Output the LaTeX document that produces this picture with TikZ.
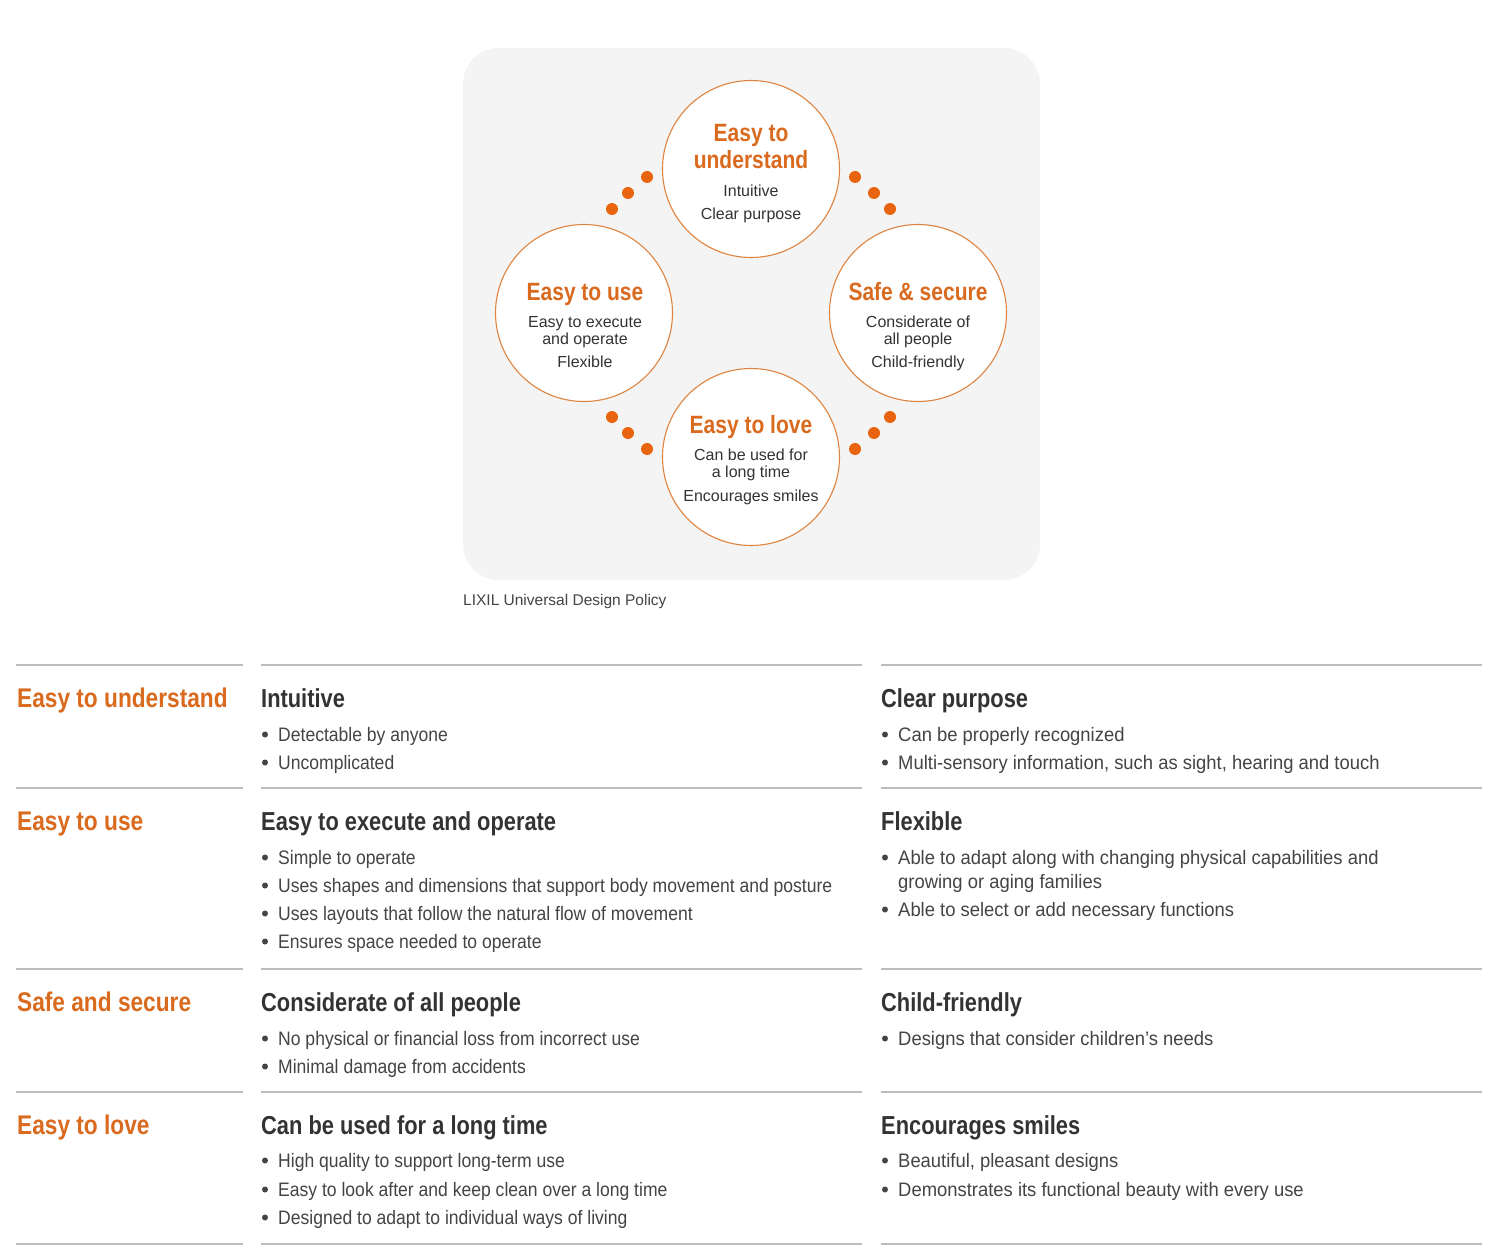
\documentclass[tikz,border=0pt]{standalone}
\usepackage{fontspec}
\setmainfont{Liberation Sans}
\newfontfamily\hdfont{Liberation Sans}[FakeStretch=0.84]
\newfontfamily\txfont{Liberation Sans}[FakeStretch=0.9]
\newfontfamily\txwfont{Liberation Sans}[FakeStretch=0.945]
\newfontfamily\cifont{Liberation Sans}
\definecolor{ttl}{HTML}{D96A1E}
\definecolor{dotc}{HTML}{E8640F}
\definecolor{ring}{HTML}{DE8440}
\definecolor{boxg}{HTML}{F4F4F4}
\definecolor{rule}{HTML}{BDBDBD}
\definecolor{dark}{HTML}{333333}
\definecolor{body}{HTML}{444444}
\tikzset{
  circ/.style={circle, draw=ring, line width=1.1pt, fill=white, minimum size=177pt, inner sep=0pt},
  odot/.style={fill=dotc, draw=none},
  ctitle/.style={anchor=base, text=ttl, font=\hdfont\bfseries\fontsize{25}{27}\selectfont, inner sep=0pt},
  csub/.style={anchor=base, text=dark, font=\cifont\fontsize{16}{17}\selectfont, inner sep=0pt},
  rowlab/.style={anchor=base west, text=ttl, font=\hdfont\bfseries\fontsize{27}{30}\selectfont, inner sep=0pt},
  colhead/.style={anchor=base west, text=dark, font=\hdfont\bfseries\fontsize{26}{29}\selectfont, inner sep=0pt},
  item/.style={anchor=base west, text=body, font=\txfont\fontsize{19.5}{24}\selectfont, inner sep=0pt},
  itemw/.style={anchor=base west, text=body, font=\txwfont\fontsize{19.5}{24}\selectfont, inner sep=0pt},
  sep/.style={draw=rule, line width=2pt},
  bul/.style={fill=body, draw=none}
}
\begin{document}
\begin{tikzpicture}[x=1pt,y=-1pt]
\useasboundingbox (0,0) rectangle (1500,1260);
\fill[white] (0,0) rectangle (1500,1260);
% grey panel
\fill[boxg, rounded corners=36pt] (463,48) rectangle (1040,580);
% dots
\foreach \x/\y in {647/177,628/193,612/209, 855/177,874/193,890/209, 612/417,628/433,647/449, 890/417,874/433,855/449}
  \fill[odot] (\x,\y) circle (6);
% circles
\node[circ] (ctop) at (751,169) {};
\node[circ] (cleft) at (584,313) {};
\node[circ] (cright) at (918,313) {};
\node[circ] (cbot) at (751,457) {};
% circle texts
\node[ctitle] (t1a) at (751,142) {Easy to};
\node[ctitle] (t1b) at (751,169) {understand};
\node[csub] (t1c) at (751,197) {Intuitive};
\node[csub] (t1d) at (751,220) {Clear purpose};
\node[ctitle] (t2a) at (585,300) {Easy to use};
\node[csub] (t2b) at (585,327) {Easy to execute};
\node[csub] (t2c) at (585,344) {and operate};
\node[csub] (t2d) at (585,367) {Flexible};
\node[ctitle] (t3a) at (918,300) {Safe \& secure};
\node[csub] (t3b) at (918,327) {Considerate of};
\node[csub] (t3c) at (918,344) {all people};
\node[csub] (t3d) at (918,367) {Child-friendly};
\node[ctitle] (t4a) at (751,433) {Easy to love};
\node[csub] (t4b) at (751,460) {Can be used for};
\node[csub] (t4c) at (751,477) {a long time};
\node[csub] (t4d) at (751,501) {Encourages smiles};
% caption
\node[anchor=base west, text=body, font=\fontsize{15.5}{17}\selectfont, inner sep=0pt] (cap) at (463,605) {LIXIL Universal Design Policy};
% table rules
\foreach \y in {665,788,969,1092,1244} {
  \draw[sep] (16,\y) -- (243,\y);
  \draw[sep] (261,\y) -- (862,\y);
  \draw[sep] (881,\y) -- (1482,\y);
}
% row 1
\node[rowlab] (r1) at (17,707) {Easy to understand};
\node[colhead] (h11) at (261,707) {Intuitive};
\node[item] (i111) at (278,741) {Detectable by anyone};
\node[item] (i112) at (278,769) {Uncomplicated};
\node[colhead] (h12) at (881,707) {Clear purpose};
\node[itemw] (i121) at (898,741) {Can be properly recognized};
\node[itemw] (i122) at (898,769) {Multi-sensory information, such as sight, hearing and touch};
% row 2
\node[rowlab] (r2) at (17,830) {Easy to use};
\node[colhead] (h21) at (261,830) {Easy to execute and operate};
\node[item] (i211) at (278,864) {Simple to operate};
\node[item] (i212) at (278,892) {Uses shapes and dimensions that support body movement and posture};
\node[item] (i213) at (278,920) {Uses layouts that follow the natural flow of movement};
\node[item] (i214) at (278,948) {Ensures space needed to operate};
\node[colhead] (h22) at (881,830) {Flexible};
\node[itemw] (i221) at (898,864) {Able to adapt along with changing physical capabilities and};
\node[itemw] (i221b) at (898,888) {growing or aging families};
\node[itemw] (i222) at (898,916) {Able to select or add necessary functions};
% row 3
\node[rowlab] (r3) at (17,1011) {Safe and secure};
\node[colhead] (h31) at (261,1011) {Considerate of all people};
\node[item] (i311) at (278,1045) {No physical or financial loss from incorrect use};
\node[item] (i312) at (278,1073) {Minimal damage from accidents};
\node[colhead] (h32) at (881,1011) {Child-friendly};
\node[itemw] (i321) at (898,1045) {Designs that consider children’s needs};
% row 4
\node[rowlab] (r4) at (17,1134) {Easy to love};
\node[colhead] (h41) at (261,1134) {Can be used for a long time};
\node[item] (i411) at (278,1167) {High quality to support long-term use};
\node[item] (i412) at (278,1196) {Easy to look after and keep clean over a long time};
\node[item] (i413) at (278,1224) {Designed to adapt to individual ways of living};
\node[colhead] (h42) at (881,1134) {Encourages smiles};
\node[itemw] (i421) at (898,1167) {Beautiful, pleasant designs};
\node[itemw] (i422) at (898,1196) {Demonstrates its functional beauty with every use};
% bullets
\foreach \x/\y in {265/741,265/769, 885/741,885/769,
  265/864,265/892,265/920,265/948, 885/864,885/916,
  265/1045,265/1073, 885/1045,
  265/1167,265/1196,265/1224, 885/1167,885/1196}
  \fill[bul] (\x,\y-6.5) circle (3);
\end{tikzpicture}
\end{document}
